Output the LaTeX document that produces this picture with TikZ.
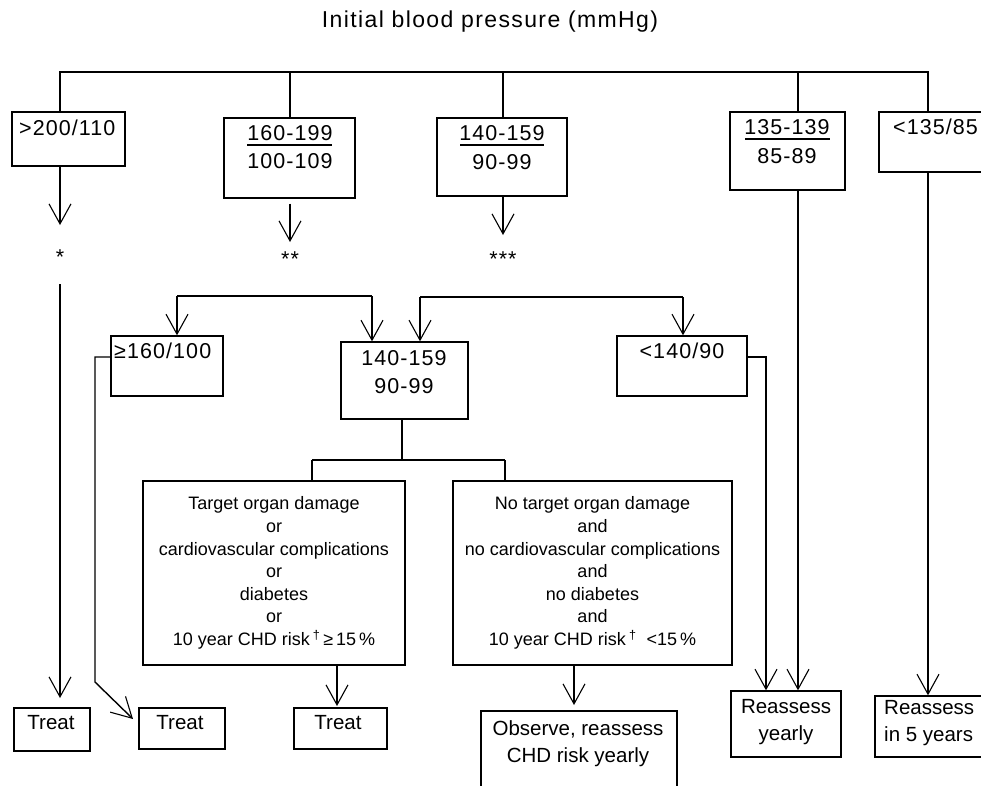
\documentclass[tikz,border=0pt]{standalone}
\usepackage{fontspec}
\setmainfont{Liberation Sans}
\newfontfamily\spaced{Liberation Sans}[LetterSpace=5]
\newfontfamily\tspaced{Liberation Sans}[LetterSpace=6]
\usetikzlibrary{arrows.meta}
\tikzset{
 box/.style={draw, line width=1.4pt, inner sep=0pt},
 lbl/.style={inner sep=0pt, font=\spaced\fontsize{21.5}{28}\selectfont, align=center},
 txt/.style={inner sep=0pt, font=\fontsize{20.5}{27}\selectfont, align=center},
 small/.style={inner sep=0pt, font=\fontsize{18}{22.6}\selectfont, align=center},
 conn/.style={line width=1.4pt},
 arr/.style={conn, -{Straight Barb[length=20pt,width=22pt,line width=1.1pt]}},
}
\begin{document}
\begin{tikzpicture}[x=1pt,y=-1pt]
\useasboundingbox (0,0) rectangle (981,785);
% title
\node[inner sep=0pt, font=\tspaced\fontsize{23}{26}\selectfont] (title) at (490,22) {Initial blood pressure (mmHg)};
% first level boxes
\node[box, minimum width=113, minimum height=54] (A) at (68.5,139) {};
\node[box, minimum width=131, minimum height=80] (B) at (289.5,158) {};
\node[box, minimum width=130, minimum height=78] (C) at (502,157) {};
\node[box, minimum width=115, minimum height=78] (D) at (787.5,151) {};
\node[box, minimum width=111, minimum height=60] (E) at (934.5,142) {};
% first level texts
\node[lbl, anchor=west] (At) at (19,128) {>200/110};
\node[lbl] (Bt1) at (290,133) {160-199};
\node[lbl] (Bt2) at (290,161) {100-109};
\node[lbl] (Ct1) at (502,133) {140-159};
\node[lbl] (Ct2) at (502,162) {90-99};
\node[lbl] (Dt1) at (787,127) {135-139};
\node[lbl] (Dt2) at (787,156) {85-89};
\node[lbl, anchor=west] (Et) at (893,127) {<135/85};
\draw[line width=1.2pt] (247,145) -- (332,145);
\draw[line width=1.2pt] (460,145) -- (544,145);
\draw[line width=1.2pt] (745,139) -- (830,139);
% stars
\node[lbl] (sA) at (60,257) {*};
\node[lbl] (sB) at (290,259) {**};
\node[lbl] (sC) at (503,259) {***};
% second level
\node[box, minimum width=112, minimum height=60] (F) at (167,366) {};
\node[box, minimum width=127, minimum height=77] (G) at (404.5,380.5) {};
\node[box, minimum width=130, minimum height=60] (H) at (682,366) {};
\node[lbl, anchor=west] (Ft) at (114,351) {≥160/100};
\node[lbl] (Gt) at (404,372) {140-159\\90-99};
\node[lbl] (Ht) at (682,351) {<140/90};
% third level
\node[box, minimum width=262, minimum height=184] (I) at (274,573) {};
\node[box, minimum width=279, minimum height=184] (J) at (592.5,573) {};
\node[small] (It) at (274,573) {Target organ damage\\or\\cardiovascular complications\\or\\diabetes\\or\\10 year CHD risk\,\textsuperscript{†}\,≥\,15\,\%};
\node[small] (Jt) at (592.5,573) {No target organ damage\\and\\no cardiovascular complications\\and\\no diabetes\\and\\10 year CHD risk\,\textsuperscript{†}\ \ <15\,\%};
% bottom boxes
\node[box, minimum width=76, minimum height=43] (T1) at (52,729.5) {};
\node[box, minimum width=86, minimum height=41] (T2) at (182,728.5) {};
\node[box, minimum width=93, minimum height=41] (T3) at (340.5,728.5) {};
\node[box, minimum width=196, minimum height=89] (O) at (579,755.5) {};
\node[box, minimum width=110, minimum height=66] (Y) at (786,724) {};
\node[box, minimum width=115, minimum height=61] (R) at (932.5,726.5) {};
\node[txt] (T1t) at (51,723) {Treat};
\node[txt] (T2t) at (180,723) {Treat};
\node[txt] (T3t) at (338,723) {Treat};
\node[txt] (Ot) at (578,744) {Observe, reassess\\CHD risk yearly};
\node[txt] (Yt) at (786,722) {Reassess\\yearly};
\node[txt, align=left, anchor=west] (Rt) at (884,723) {Reassess\\in 5 years};
% top bus
\coordinate (busL) at (60,72);
\coordinate (busB) at (290,72);
\coordinate (busC) at (503,72);
\coordinate (busD) at (798,72);
\coordinate (busR) at (928,72);
\draw[conn] (A.north -| busL) -- (busL) -- (busR) -- (E.north -| busR);
\draw[conn] (busB) -- (B.north -| busB);
\draw[conn] (busC) -- (C.north -| busC);
\draw[conn] (busD) -- (D.north -| busD);
% arrows to stars
\coordinate (tA) at (60,225);
\coordinate (tB) at (290,242);
\coordinate (tC) at (503,235);
\draw[arr] (A.south -| tA) -- (tA);
\draw[arr] ([yshift=-5pt]B.south -| tB) -- (tB);
\draw[arr] (C.south -| tC) -- (tC);
% branching to second level
\coordinate (k1) at (177,296);
\coordinate (k2) at (372,296);
\coordinate (k3) at (420,297);
\coordinate (k4) at (683,297);
\draw[arr] (k1) -- (k1 |- F.north);
\draw[conn] (k1) -- (k2);
\draw[arr] (k2) -- (k2 |- G.north);
\draw[arr] (k3) -- (k3 |- G.north);
\draw[conn] (k3) -- (k4);
\draw[arr] (k4) -- (k4 |- H.north);
% from G to I and J
\coordinate (g1) at (402,460);
\coordinate (g2) at (312,460);
\coordinate (g3) at (505,460);
\draw[conn] (G.south -| g1) -- (g1);
\draw[conn] (g2) -- (g3);
\draw[conn] (g2) -- (I.north -| g2);
\draw[conn] (g3) -- (J.north -| g3);
% to bottom boxes
\coordinate (f1) at (95,357);
\coordinate (f2) at (95,682);
\coordinate (tT2) at (133,719);
\draw[arr] (F.west |- f1) -- (f1) -- (f2) -- (tT2);
\coordinate (sAb) at (60,284);
\coordinate (xA2) at (60,698);
\draw[arr] (sAb) -- (xA2);
\coordinate (tT3) at (337,706);
\draw[arr] (I.south -| tT3) -- (tT3);
\coordinate (tO) at (574,705);
\draw[arr] (J.south -| tO) -- (tO);
\coordinate (h1) at (766,357);
\draw[arr] (H.east |- h1) -- (h1) -- (h1 |- Y.north);
\draw[arr] (D.south -| busD) -- (busD |- Y.north);
\draw[arr] (E.south -| busR) -- (busR |- R.north);
\end{tikzpicture}
\end{document}
